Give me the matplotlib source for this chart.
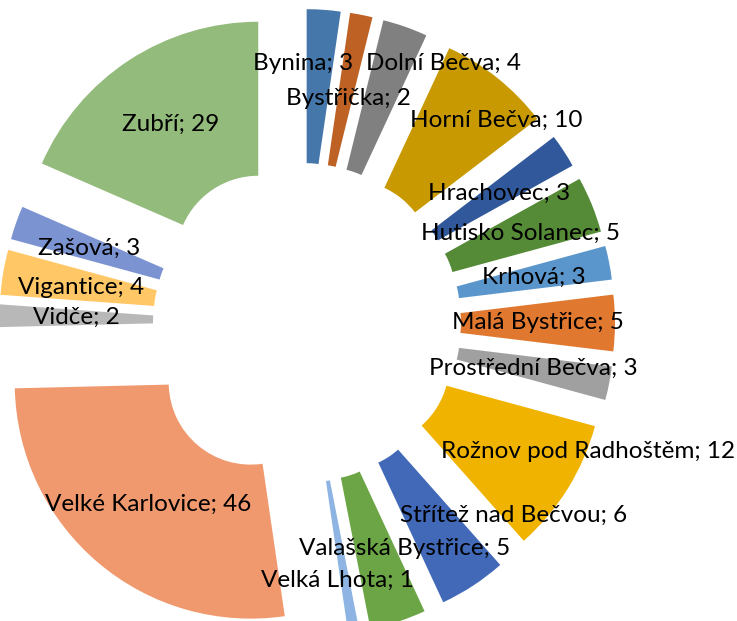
import numpy as np
import matplotlib.pyplot as plt

# obce a počty (popisky v grafu)
names = ["Bynina", "Bystřička", "Dolní Bečva", "Horní Bečva", "Hrachovec",
         "Hutisko Solanec", "Krhová", "Malá Bystřice", "Prostřední Bečva",
         "Rožnov pod Radhoštěm", "Střítež nad Bečvou", "Valašská Bystřice",
         "Velká Lhota", "Velké Karlovice", "Vidče", "Vigantice", "Zašová", "Zubří"]
counts = [3, 2, 4, 10, 3, 5, 3, 5, 3, 12, 6, 5, 1, 46, 2, 4, 3, 29]
# velikost výsečí tak, jak jsou nakreslené (Zubří a V. Karlovice jsou menší než popisek)
drawn = [3, 2, 4, 10, 3, 5, 3, 5, 3, 12, 6, 5, 1, 35, 2, 4, 3, 24]

colors = ["#4677AB", "#BD6124", "#808080", "#C89900", "#30589A", "#558A37",
          "#5A96CB", "#E07830", "#A0A0A0", "#F0B400", "#4169B8", "#6CA545",
          "#8DB4E2", "#F0996E", "#B8B8B8", "#FFC766", "#7B93D0", "#93BB7B"]

R = 236.0          # outer radius in pixels
hole = 82.0 / R
cx, cy = 301.0, 323.0   # centre, pixels from top-left
W, H = 737, 621

# odsunutí výsečí (px); tři malé vlevo jsou odsunuté méně
expl_px = [78] * len(drawn)
for nm in ("Vidče", "Vigantice", "Zašová"):
    expl_px[names.index(nm)] = 66
explode = [e / R for e in expl_px]

fig = plt.figure(figsize=(W / 100, H / 100), dpi=100)
ax = fig.add_axes([0, 0, 1, 1])
wedges, _ = ax.pie(drawn, colors=colors, startangle=90, counterclock=False,
                   explode=explode, radius=1,
                   wedgeprops=dict(width=1 - hole, linewidth=0))
ax.set_xlim(-cx / R, (W - cx) / R)
ax.set_ylim(-(H - cy) / R, cy / R)
ax.set_aspect("equal")
ax.set_axis_off()

# posuny popisků (px, x doprava, y nahoru), jako je Excel odsunul
nudge = {"Bynina": (-15, 23), "Bystřička": (2, -8), "Dolní Bečva": (64, 36),
         "Horní Bečva": (47, 18), "Rožnov pod Radhoštěm": (86, -3),
         "Střítež nad Bečvou": (83, 6), "Valašská Bystřice": (30, 0),
         "Velká Lhota": (-3, -24), "Vigantice": (2, -2)}

for w, name, n, ex in zip(wedges, names, counts, explode):
    t = np.deg2rad((w.theta1 + w.theta2) / 2)
    rmid = ex + (1 + hole) / 2
    dx, dy = nudge.get(name, (0, 0))
    x = rmid * np.cos(t) + dx / R
    y = rmid * np.sin(t) + dy / R
    ax.text(x, y, f"{name}; {n}", ha="center", va="center",
            fontsize=17.5, family=["Lato", "DejaVu Sans"], color="black")

fig.savefig("out.png", dpi=100, facecolor="white")
